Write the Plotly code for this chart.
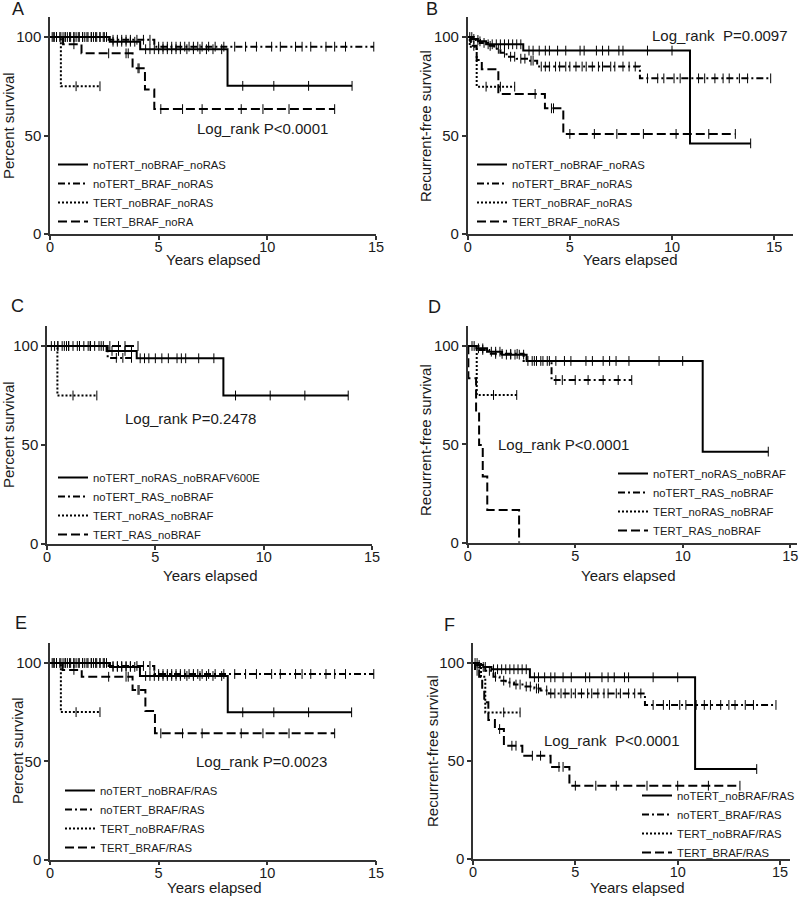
import plotly.graph_objects as go

W, H = 800, 897

# ---------------- data ----------------
# Panel A (overall survival)
A_names = ["noTERT_noBRAF_noRAS", "noTERT_BRAF_noRAS", "TERT_noBRAF_noRAS", "TERT_BRAF_noRA"]
A1_t = [0, 2.75, 4.15, 8.17, 13.9]
A1_s = [100, 97.6, 93.8, 75.2, 75.2]
A1_c = [0.1, 0.2, 0.3, 0.45, 0.6, 0.7, 0.8, 0.95, 1.1, 1.2, 1.35, 1.5, 1.6, 1.75, 1.9, 2.0, 2.15, 2.3, 2.45, 2.6,
        2.9, 3.1, 3.3, 3.5, 3.7, 3.9, 4.4, 4.6, 4.8, 5.0, 5.2, 5.4, 5.6, 5.8, 6.0, 6.3, 6.6, 6.9, 7.2, 7.5, 7.9,
        8.87, 10.3, 11.9, 13.9]
A2_t = [0, 2.7, 4.8, 14.9]
A2_s = [100, 98.6, 95.1, 95.1]
A2_c = [0.15, 0.3, 0.5, 0.7, 0.9, 1.1, 1.3, 1.5, 1.7, 1.9, 2.1, 2.3, 2.5, 2.9, 3.1, 3.3, 3.5, 3.7, 4.0, 4.3, 4.6,
        5.0, 5.2, 5.4, 5.6, 5.8, 6.0, 6.2, 6.4, 6.6, 6.8, 7.0, 7.3, 7.6, 8.0, 8.5, 9.0, 9.5, 10.2, 10.6, 11.3,
        11.6, 12.0, 12.7, 13.1, 13.6, 14.9]
A3_t = [0, 0.5, 2.3]
A3_s = [100, 75, 75]
A3_c = [1.2, 2.3]
A4_t = [0, 0.6, 1.45, 3.8, 4.37, 4.8, 13.1]
A4_s = [100, 96.3, 91.7, 84.1, 73.4, 63.4, 63.4]
A4_c = [1.1, 2.7, 3.5, 3.6, 4.05, 4.1, 5.1, 6.1, 7.0, 8.8, 9.8, 11.0, 13.1]

# Panel B (recurrence-free survival)
B_names = ["noTERT_noBRAF_noRAS", "noTERT_BRAF_noRAS", "TERT_noBRAF_noRAS", "TERT_BRAF_noRAS"]
B1_t = [0, 0.2, 0.5, 0.9, 2.72, 10.88, 13.85]
B1_s = [100, 99, 97.8, 96.3, 93.1, 46.0, 46.0]
B1_c = [0.1, 0.3, 0.6, 1.0, 1.2, 1.4, 1.6, 1.8, 2.0, 2.2, 2.4, 2.6, 3.0, 3.2, 3.5, 3.8, 4.0, 4.4, 4.8, 5.5, 5.7,
        6.3, 6.6, 6.9, 7.4, 7.6, 8.8, 10.0, 13.85]
B2_t = [0, 0.3, 0.6, 1.0, 1.3, 1.6, 1.9, 2.4, 3.0, 3.4, 8.43, 14.83]
B2_s = [100, 98.5, 97, 95.5, 94, 92, 90, 89, 88, 85, 79, 79]
B2_c = [0.2, 0.5, 0.8, 1.1, 1.5, 1.8, 2.1, 2.3, 2.6, 2.8, 3.1, 3.2, 3.6, 3.8, 4.0, 4.3, 4.5, 4.8, 5.0, 5.3, 5.6,
        5.8, 6.1, 6.4, 6.6, 7.0, 7.2, 7.6, 7.9, 8.2, 8.8, 9.3, 9.6, 10.1, 10.4, 10.9, 11.3, 11.6, 12.1, 12.5,
        12.8, 13.3, 13.7, 14.83]
B3_t = [0, 0.1, 0.44, 2.3]
B3_s = [100, 95, 74.8, 74.8]
B3_c = [0.9, 1.6, 2.3]
B4_t = [0, 0.15, 0.44, 0.69, 1.5, 3.78, 4.68, 13.1]
B4_s = [100, 95.5, 88.3, 83.6, 71.1, 63.8, 50.8, 50.8]
B4_c = [0.3, 3.3, 4.1, 4.2, 5.0, 6.2, 7.3, 8.6, 10.2, 11.8, 13.1]

# Panel C (overall survival, noBRAF)
C_names = ["noTERT_noRAS_noBRAFV600E", "noTERT_RAS_noBRAF", "TERT_noRAS_noBRAF", "TERT_RAS_noBRAF"]
C1_t = [0, 2.75, 4.14, 8.14, 13.9]
C1_s = [100, 97.5, 93.8, 75, 75]
C1_c = [0.2, 0.35, 0.5, 0.7, 0.9, 1.0, 1.2, 1.4, 1.5, 1.7, 1.9, 2.0, 2.2, 2.4, 2.6, 3.0, 3.3, 3.6, 3.9, 4.3,
        4.5, 4.7, 5.0, 5.3, 5.6, 6.0, 6.2, 6.4, 7.0, 7.7, 8.7, 10.3, 11.9, 13.9]
C2_t = [0, 2.8, 3.9]
C2_s = [100, 94, 94]
C2_c = [0.5, 1.0, 1.5, 2.0, 2.5, 3.2, 3.5, 3.9]
C3_t = [0, 0.48, 2.3]
C3_s = [100, 75, 75]
C3_c = [1.2, 2.3]
C4_t = [0, 4.2]
C4_s = [100, 100]
C4_c = [0.8, 1.5, 2.0, 2.9, 3.3, 3.6, 4.2]

# Panel D (recurrence-free survival, noBRAF)
D_names = ["noTERT_noRAS_noBRAF", "noTERT_RAS_noBRAF", "TERT_noRAS_noBRAF", "TERT_RAS_noBRAF"]
D1_t = [0, 0.4, 0.9, 1.6, 2.74, 10.93, 13.98]
D1_s = [100, 98.8, 97.1, 95.6, 92.4, 46.3, 46.3]
D1_c = [0.2, 0.5, 0.7, 1.1, 1.3, 1.5, 1.8, 2.0, 2.2, 2.4, 2.6, 3.0, 3.2, 3.5, 3.8, 4.1, 4.5, 4.8, 5.5, 5.8,
        6.3, 6.6, 6.9, 7.5, 8.9, 10.0, 13.98]
D2_t = [0, 0.5, 1.0, 2.6, 3.9, 7.63]
D2_s = [100, 98, 96, 92.4, 82.7, 82.7]
D2_c = [0.3, 0.7, 1.3, 1.6, 2.0, 2.3, 2.8, 3.1, 3.4, 3.7, 4.1, 4.4, 5.0, 5.6, 6.3, 7.0, 7.63]
D3_t = [0, 0.42, 2.28]
D3_s = [100, 75.1, 75.1]
D3_c = [1.2, 2.28]
D4_t = [0, 0.03, 0.39, 0.53, 0.7, 0.91, 2.39]
D4_s = [100, 83.6, 66.6, 49.7, 33.6, 16.6, 0]
D4_c = []

# Panel E (overall survival, BRAF/RAS)
E_names = ["noTERT_noBRAF/RAS", "noTERT_BRAF/RAS", "TERT_noBRAF/RAS", "TERT_BRAF/RAS"]
E1_t = [0, 2.76, 4.14, 8.18, 13.88]
E1_s = [100, 98.0, 93.4, 74.9, 74.9]
E1_c = [0.1, 0.2, 0.3, 0.45, 0.6, 0.7, 0.8, 0.95, 1.1, 1.2, 1.35, 1.5, 1.6, 1.75, 1.9, 2.0, 2.15, 2.3, 2.45, 2.6,
        2.9, 3.1, 3.3, 3.5, 3.7, 3.9, 4.4, 4.6, 4.8, 5.0, 5.2, 5.4, 5.6, 5.8, 6.0, 6.3, 6.6, 6.9, 7.2, 7.5, 7.9,
        8.87, 10.3, 11.9, 13.88]
E2_t = [0, 2.7, 4.8, 14.9]
E2_s = [100, 98.5, 94.4, 94.4]
E2_c = [0.15, 0.3, 0.5, 0.7, 0.9, 1.1, 1.3, 1.5, 1.7, 1.9, 2.1, 2.3, 2.5, 2.9, 3.1, 3.3, 3.5, 3.7, 4.0, 4.3, 4.6,
        5.0, 5.2, 5.4, 5.6, 5.8, 6.0, 6.2, 6.4, 6.6, 6.8, 7.0, 7.3, 7.6, 8.0, 8.5, 9.0, 9.5, 10.2, 10.6, 11.3,
        11.6, 12.0, 12.7, 13.1, 13.6, 14.9]
E3_t = [0, 0.5, 2.3]
E3_s = [100, 75, 75]
E3_c = [1.2, 2.3]
E4_t = [0, 0.58, 1.46, 3.8, 4.39, 4.83, 13.1]
E4_s = [100, 96.5, 93.0, 86.3, 75.6, 64.2, 64.2]
E4_c = [1.1, 2.7, 3.5, 3.6, 4.05, 4.1, 5.1, 6.1, 7.0, 8.8, 9.8, 11.0, 13.1]

# Panel F (recurrence-free survival, BRAF/RAS)
F_names = ["noTERT_noBRAF/RAS", "noTERT_BRAF/RAS", "TERT_noBRAF/RAS", "TERT_BRAF/RAS"]
F1_t = [0, 0.2, 0.5, 0.9, 2.78, 10.85, 13.86]
F1_s = [100, 99, 98, 96.8, 92.7, 45.9, 45.9]
F1_c = [0.1, 0.3, 0.6, 1.0, 1.2, 1.4, 1.6, 1.8, 2.0, 2.2, 2.4, 2.6, 3.0, 3.2, 3.5, 3.8, 4.0, 4.4, 4.8, 5.5, 5.7,
        6.3, 6.6, 6.9, 7.4, 7.6, 8.8, 10.0, 13.86]
F2_t = [0, 0.3, 0.6, 1.0, 1.3, 1.6, 2.0, 2.5, 3.0, 3.3, 3.7, 8.4, 14.8]
F2_s = [100, 98, 96, 93, 91, 90, 89, 88, 87, 86, 84.5, 78.6, 78.6]
F2_c = [0.2, 0.5, 0.8, 1.1, 1.5, 1.8, 2.1, 2.3, 2.6, 2.8, 3.1, 3.2, 3.6, 3.8, 4.0, 4.3, 4.5, 4.8, 5.0, 5.3, 5.6,
        5.8, 6.1, 6.4, 6.6, 7.0, 7.2, 7.6, 7.9, 8.2, 8.8, 9.3, 9.6, 10.1, 10.4, 10.9, 11.3, 11.6, 12.1, 12.5,
        12.8, 13.3, 13.7, 14.8]
F3_t = [0, 0.39, 0.6, 2.3]
F3_s = [100, 93, 74.8, 74.8]
F3_c = [1.5, 2.3]
F4_t = [0, 0.1, 0.3, 0.45, 0.55, 0.75, 1.07, 1.51, 2.41, 3.79, 4.71, 13.04]
F4_s = [100, 96, 93, 86, 80, 70.9, 66.3, 57.8, 52.7, 47.0, 37.4, 37.4]
F4_c = [0.2, 1.3, 1.9, 2.1, 2.9, 3.3, 4.2, 4.4, 5.0, 6.0, 7.0, 8.5, 10.0, 11.5, 13.04]

P_values = ["Log_rank P<0.0001", "Log_rank  P=0.0097", "Log_rank P=0.2478",
            "Log_rank P<0.0001", "Log_rank P=0.0023", "Log_rank  P<0.0001"]
panel_letters = ["A", "B", "C", "D", "E", "F"]
y_titles = ["Percent survival", "Recurrent-free survival", "Percent survival",
            "Recurrent-free survival", "Percent survival", "Recurrent-free survival"]
x_title = "Years elapsed"
x_ticks = [0, 5, 10, 15]
y_ticks = [0, 50, 100]

# ---------------- layout geometry (reference pixels) ----------------
# x0px, px-per-year, xmax, y0px, px-per-percent
geom = [
    (50.0, 21.73, 15.0, 234.0, 1.97),
    (467.7, 20.43, 15.9, 234.0, 1.97),
    (47.0, 21.67, 15.0, 544.0, 1.98),
    (467.7, 21.5, 15.3, 542.7, 1.967),
    (50.0, 21.73, 15.0, 859.5, 1.965),
    (473.0, 20.47, 15.5, 859.0, 1.96),
]
YMAX = 110
letter_pos = [(18, 9), (432, 9), (17, 306), (435, 307), (21, 623), (449, 625)]
ptext_pos = [(262, 128), (720, 36), (190, 418), (563, 444), (261, 761), (612, 740)]
ytitle_pos = [(8, 126), (425, 126), (8, 435), (425, 440), (17, 751), (432, 751)]
xtitle_pos = [(213, 259), (630, 260), (210, 575), (628, 575), (214, 887), (637, 887)]
legend_pos = [(53, 150), (472, 150), (53, 463), (613, 459), (60, 776), (637, 781)]

panels = [
    (A_names, [(A1_t, A1_s, A1_c), (A2_t, A2_s, A2_c), (A3_t, A3_s, A3_c), (A4_t, A4_s, A4_c)]),
    (B_names, [(B1_t, B1_s, B1_c), (B2_t, B2_s, B2_c), (B3_t, B3_s, B3_c), (B4_t, B4_s, B4_c)]),
    (C_names, [(C1_t, C1_s, C1_c), (C2_t, C2_s, C2_c), (C3_t, C3_s, C3_c), (C4_t, C4_s, C4_c)]),
    (D_names, [(D1_t, D1_s, D1_c), (D2_t, D2_s, D2_c), (D3_t, D3_s, D3_c), (D4_t, D4_s, D4_c)]),
    (E_names, [(E1_t, E1_s, E1_c), (E2_t, E2_s, E2_c), (E3_t, E3_s, E3_c), (E4_t, E4_s, E4_c)]),
    (F_names, [(F1_t, F1_s, F1_c), (F2_t, F2_s, F2_c), (F3_t, F3_s, F3_c), (F4_t, F4_s, F4_c)]),
]

dashes = ["solid", "7px,3px,2px,3px", "2px,2px", "9px,4px"]
FONT = "Liberation Sans, Arial, sans-serif"


def fx(px):
    return px / W


def fy(py):
    return 1 - py / H


def step_value(t, s, x):
    v = s[0]
    for ti, si in zip(t, s):
        if ti <= x:
            v = si
    return v


def text_ann(text, pos, size, angle=0):
    px, py = pos
    return dict(text=text, x=fx(px), y=fy(py), xref="paper", yref="paper",
                xanchor="center", yanchor="middle", showarrow=False, textangle=angle,
                font=dict(size=size, family=FONT, color="#1a1a1a"))


fig = go.Figure()
layout = dict(
    width=W, height=H,
    margin=dict(l=0, r=0, t=0, b=0, pad=0, autoexpand=False),
    paper_bgcolor="white", plot_bgcolor="white",
    font=dict(family=FONT, color="#1a1a1a", size=14),
    annotations=[],
)

for i, (names, curves) in enumerate(panels):
    x0, kx, xmax, y0, ky = geom[i]
    sfx = "" if i == 0 else str(i + 1)
    xa, ya = "x" + sfx, "y" + sfx
    leg = "legend" if i == 0 else "legend" + str(i + 1)
    for j, (t, s, c) in enumerate(curves):
        fig.add_trace(go.Scatter(
            x=t, y=s, mode="lines", line=dict(color="black", width=2, dash=dashes[j], shape="hv"),
            name=names[j], xaxis=xa, yaxis=ya, legend=leg, showlegend=True, hoverinfo="skip"))
        if c:
            fig.add_trace(go.Scatter(
                x=c, y=[step_value(t, s, cx) for cx in c], mode="markers",
                marker=dict(symbol="line-ns", size=7, color="black", line=dict(width=1, color="black")),
                xaxis=xa, yaxis=ya, showlegend=False, hoverinfo="skip"))
    x1px = x0 + xmax * kx
    ytop = y0 - YMAX * ky
    layout["xaxis" + sfx] = dict(
        domain=[fx(x0), min(1.0, fx(x1px))], range=[0, xmax], anchor=ya, automargin=False,
        tickvals=x_ticks, ticks="outside", ticklen=4, tickwidth=1.5, tickcolor="#333",
        ticklabelstandoff=-5,
        showline=True, linecolor="#333", linewidth=1.5, showgrid=False, zeroline=False,
        tickfont=dict(size=14.5, family=FONT, color="#1a1a1a"))
    layout["yaxis" + sfx] = dict(
        domain=[fy(y0), fy(ytop)], range=[0, YMAX], anchor=xa, automargin=False,
        tickvals=y_ticks, ticks="outside", ticklen=4, tickwidth=1.5, tickcolor="#333",
        showline=True, linecolor="#333", linewidth=1.5, showgrid=False, zeroline=False,
        tickfont=dict(size=15, family=FONT, color="#1a1a1a"))
    lx, ly = legend_pos[i]
    layout[leg] = dict(x=fx(lx), y=fy(ly), xanchor="left", yanchor="top",
                       bgcolor="rgba(0,0,0,0)", font=dict(size=11.3, family=FONT, color="#1a1a1a"),
                       traceorder="normal", itemwidth=30)
    anns = layout["annotations"]
    anns.append(text_ann(panel_letters[i], letter_pos[i], 18))
    anns.append(text_ann(P_values[i].replace("  ", "&nbsp; "), ptext_pos[i], 15))
    anns.append(text_ann(y_titles[i], ytitle_pos[i], 15, -90))
    anns.append(text_ann(x_title, xtitle_pos[i], 15))

fig.update_layout(**layout)
fig.write_html("out.html", config={"displayModeBar": False},
               post_script="document.body.style.margin='0px';")
